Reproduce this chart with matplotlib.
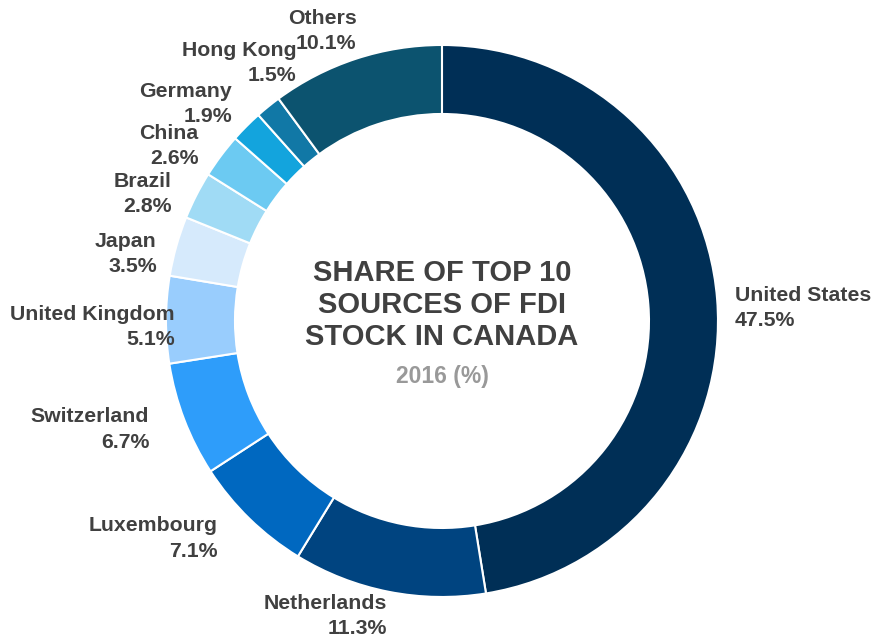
import matplotlib.pyplot as plt
import numpy as np

plt.rcParams['font.family'] = ['Liberation Sans', 'DejaVu Sans']

countries = ["United States", "Netherlands", "Luxembourg", "Switzerland",
             "United Kingdom", "Japan", "Brazil", "China", "Germany",
             "Hong Kong", "Others"]
shares = [47.5, 11.3, 7.1, 6.7, 5.1, 3.5, 2.8, 2.6, 1.9, 1.5, 10.1]
colors = ["#002f56", "#004480", "#0068c0", "#2e9dfa", "#99cdfd", "#d6eafc",
          "#a0dbf5", "#6ccaf2", "#13a4dd", "#1178a6", "#0c536f"]

# small nudges (in points) for labels that sit off their default spot
nudge = {"United States": (-7, -8), "Netherlands": (3, 2),
         "Luxembourg": (-9, 0), "Switzerland": (-6.5, 0),
         "United Kingdom": (26, -5.5), "Japan": (5, -11), "Brazil": (0, -8),
         "China": (0, -5), "Germany": (4, 2), "Hong Kong": (33, 16),
         "Others": (6.5, 1)}

fig = plt.figure(figsize=(8.71, 6.37), dpi=100)
ax = fig.add_axes([0, 0, 1, 1])

wedges, _ = ax.pie(shares, colors=colors, startangle=90, counterclock=False,
                   radius=1.0,
                   wedgeprops=dict(width=0.25, edgecolor="white", linewidth=1.5))

for w, name, val in zip(wedges, countries, shares):
    mid = np.deg2rad((w.theta1 + w.theta2) / 2)
    x, y = 1.1 * np.cos(mid), 1.1 * np.sin(mid)
    ha = "left" if x > 0 else "right"
    ax.annotate(f"{name}\n{val:.1f}%", (x, y), xytext=nudge.get(name, (0, 0)),
                textcoords="offset points", ha=ha, va="center",
                fontsize=15.3, fontweight="bold", color="#404040",
                linespacing=1.42)

ax.text(0, 0.058, "SHARE OF TOP 10\nSOURCES OF FDI\nSTOCK IN CANADA",
        ha="center", va="center", fontsize=21, fontweight="bold",
        color="#404040", linespacing=1.2)
ax.text(0, -0.2, "2016 (%)", ha="center", va="center", fontsize=16.5,
        fontweight="bold", color="#999999")

ax.set_xlim(-1.601, 1.554)
ax.set_ylim(-1.145, 1.163)
ax.set_aspect("equal")
ax.axis("off")

fig.savefig("out.png", dpi=100)
